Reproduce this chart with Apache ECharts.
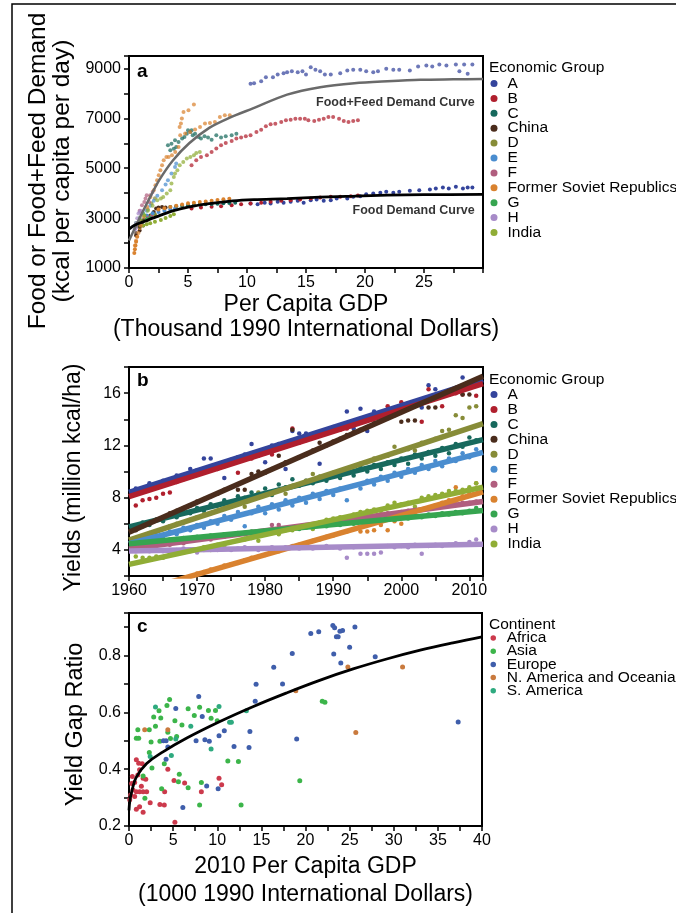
<!DOCTYPE html>
<html><head><meta charset="utf-8">
<script src="https://cdn.jsdelivr.net/npm/echarts@6/dist/echarts.min.js"></script>
<style>html,body{margin:0;padding:0;background:#fff}#c{width:676px;height:913px}</style>
</head><body><div id="c"></div>
<script>
// ---------- shared categories ----------
const groups = ['A','B','C','China','D','E','F','Former Soviet Republics','G','H','India'];
const groupColors = ['#34449c','#b01f2d','#17695d','#4a2c1c','#878c38','#4a8dcf','#b05e7e','#d9822f','#36a550','#a78bc8','#90ad36'];
const continents = ['Africa','Asia','Europe','N. America and Oceania','S. America'];
const continentColors = ['#cc3a4c','#3cb54a','#3f5eab','#c97a3e','#2eaa7f'];

// ---------- panel a: [GDP (thousand $), kcal/capita/day] ----------
const foodA = [[10.3,3590],[10.9,3560],[11.5,3615],[12.0,3590],[12.6,3655],[13.1,3615],[13.7,3655],[14.3,3695],[14.8,3615],[15.4,3720],[15.9,3750],[16.5,3695],[17.1,3720],[17.6,3790],[18.5,3790],[19.0,3855],[19.6,3880],[20.1,3960],[20.7,3990],[21.3,4015],[21.8,4055],[22.4,4015],[22.9,4055],[23.8,4095],[24.6,4120],[25.5,4150],[26.0,4190],[26.6,4230],[27.1,4190],[27.7,4255],[28.3,4190],[28.7,4230],[29.1,4230]];
const feedA = [[10.3,8390],[10.6,8410],[11.2,8490],[11.6,8650],[12.2,8650],[12.6,8760],[13.1,8810],[13.4,8850],[13.8,8890],[14.3,8850],[14.7,8890],[15.0,8760],[15.4,9050],[15.8,8950],[16.2,8890],[16.6,8760],[17.1,8760],[17.9,8810],[18.5,8920],[19.0,8950],[19.6,8950],[20.1,8890],[20.7,8850],[21.1,8890],[21.8,8990],[22.4,8950],[22.9,8950],[23.8,8920],[24.5,9080],[25.2,9120],[25.7,9080],[26.3,9160],[26.9,9120],[27.7,9160],[28.0,8890],[28.4,9160],[28.7,8790],[29.1,9160]];
const foodB = [[5.3,3390],[6.1,3430],[7.0,3455],[7.8,3480],[8.7,3520],[9.5,3560],[10.3,3590],[11.2,3615],[12.0,3655],[12.9,3695],[13.7,3720],[14.5,3750],[15.4,3790],[16.2,3830],[17.1,3855],[17.9,3855],[18.8,3880],[19.4,3910]];
const feedB = [[5.3,5120],[5.7,5320],[6.1,5455],[6.6,5520],[7.0,5655],[7.4,5790],[7.8,5920],[8.2,6015],[8.7,6095],[9.1,6190],[9.5,6230],[9.9,6280],[10.3,6320],[10.8,6455],[11.2,6545],[11.6,6680],[12.0,6760],[12.4,6785],[12.9,6855],[13.3,6920],[13.7,6945],[14.1,6985],[14.5,6985],[14.9,6985],[15.2,6920],[15.7,6895],[16.1,6945],[16.5,6985],[16.9,7055],[17.3,7055],[17.8,6985],[18.2,6895],[18.6,6855],[19.0,6895],[19.4,6920]];
const foodC = [[3.0,3400],[3.5,3450],[4.0,3480],[4.5,3500],[5.0,3520],[5.5,3530],[6.0,3550],[6.5,3560],[7.0,3570],[7.5,3580],[8.0,3600],[8.5,3610],[9.0,3620]];
const feedC = [[3.3,5920],[3.5,5720],[3.6,5985],[3.8,5785],[3.9,6120],[4.0,5855],[4.2,6055],[4.5,6190],[4.7,6255],[4.9,6385],[5.0,6520],[5.2,6455],[5.3,6520],[5.4,6320],[5.6,6385],[5.9,6255],[6.1,6190],[6.4,6280],[6.7,6230],[7.0,6145],[7.4,6320],[7.8,6230],[8.2,6280],[8.7,6320],[9.1,6385]];
const foodChina = [[0.6,2300],[0.9,2500],[1.2,2700],[1.5,2900],[1.8,3100],[2.1,3250],[2.3,3390],[2.5,3430],[2.8,3450],[3.1,3430]];
const feedChina = [[0.6,2400],[0.9,2650],[1.2,2900]];
const foodD = [[1.3,2900],[1.6,3000],[1.9,3100],[2.2,3150]];
const feedD = [[1.3,3100],[1.6,3350],[1.9,3600],[2.2,3800]];
const foodE = [[1.5,3100],[2.0,3200],[2.5,3250],[3.0,3300],[3.5,3350],[3.9,3380]];
const feedE = [[1.5,3300],[1.8,3500],[2.1,3700],[2.4,3900],[2.8,4120],[3.1,4350],[3.3,4520],[3.6,4790],[3.9,5050],[4.0,5190]];
const foodF = [[1.0,2900],[1.3,2950],[1.6,3000],[1.9,3050]];
const feedF = [[0.9,3300],[1.1,3520],[1.3,3650],[1.4,3790],[1.5,3920],[1.7,3650],[1.8,3920],[2.0,4050]];
const foodFSR = [[0.45,1600],[0.5,1750],[0.55,1900],[0.6,2050],[0.7,2250],[0.9,2600],[2.5,3350],[3.0,3400],[3.5,3450],[4.0,3500],[4.5,3550],[5.0,3600],[5.5,3620],[6.0,3650],[6.5,3670],[7.0,3700],[7.5,3730],[8.0,3760],[8.5,3780]];
const feedFSR = [[0.5,1900],[0.6,2100],[0.8,2400],[1.0,2700],[1.26,3050],[1.54,3450],[1.82,3850],[2.1,4120],[2.24,4320],[2.38,4520],[2.52,4720],[2.66,4920],[2.8,5120],[2.94,5320],[3.17,5450],[3.36,5450],[3.64,5520],[3.92,5650],[4.2,5850],[4.34,6320],[4.29,6650],[4.4,6790],[4.48,6990],[4.62,7250],[5.04,7320],[5.5,7560],[4.76,6390],[5.18,6450],[5.6,6550],[6.02,6650],[6.44,6790],[6.86,6810],[7.28,6850],[7.7,7050],[8.12,7120],[8.54,7120]];
const foodG = [[0.6,2700],[0.9,2800],[1.2,2900],[1.5,2950],[1.8,3000]];
const feedG = [[0.6,2800],[0.9,3000],[1.2,3200]];
const foodH = [[0.5,2550],[0.7,2650],[0.9,2750],[1.1,2800]];
const feedH = [[0.6,2800],[0.7,2990],[0.8,3190],[0.9,3250],[1.0,3300]];
const foodIndia = [[0.9,2650],[1.2,2700],[1.5,2750],[1.8,2790],[2.2,2850],[2.7,2920],[3.1,3000],[3.5,3080],[3.8,3160]];
const feedIndia = [[0.8,2800],[1.0,2900],[1.3,3100],[1.6,3300],[2.0,3500],[2.4,3720],[2.7,3790],[2.9,3850],[3.2,3990],[3.5,4120],[3.6,4390],[3.8,4650],[3.9,4790],[4.1,4920],[4.3,5120],[4.6,5250],[4.9,5390],[5.2,5450],[5.5,5520],[5.7,5610],[6.0,5650]];
const feedCurve = [[0,2100],[0.5,2600],[1,3100],[1.8,3850],[2.6,4550],[3.7,5300],[5.1,6000],[6.8,6620],[8.5,7020],[10.5,7400],[13.4,7950],[16.2,8250],[19.1,8410],[21.9,8490],[24.7,8550],[27.5,8565],[30,8575]];
const foodCurve = [[0,2560],[0.5,2720],[1.2,2850],[2.3,3050],[3.7,3290],[5.1,3450],[6.8,3580],[8.8,3690],[10.6,3740],[13.4,3780],[16.2,3840],[19.1,3880],[21.9,3920],[25,3940],[30,3950]];
const foodData = [foodA,foodB,foodC,foodChina,foodD,foodE,foodF,foodFSR,foodG,foodH,foodIndia];
const feedData = [feedA,feedB,feedC,feedChina,feedD,feedE,feedF,feedFSR,feedG,feedH,feedIndia];

// ---------- panel b: yields (million kcal/ha), 1961..2011 ----------
const years = [1961,1962,1963,1964,1965,1966,1967,1968,1969,1970,1971,1972,1973,1974,1975,1976,1977,1978,1979,1980,1981,1982,1983,1984,1985,1986,1987,1988,1989,1990,1991,1992,1993,1994,1995,1996,1997,1998,1999,2000,2001,2002,2003,2004,2005,2006,2007,2008,2009,2010,2011];
const yieldA = [8.7,8.6,9.1,8.9,9.3,9.3,9.7,9.6,10.2,10.1, 11.0,11.0,10.5,9.5,10.9,11.1,11.3,12.1,11.5,10.7, 12.0,12.1,10.2,13.1,12.9,12.9,12.8,10.6,13.1,13.4, 13.5,14.6,13.3,14.8,13.1,14.6,14.5,14.6,14.8,15.0, 15.2,15.3,14.9,16.6,16.3,15.8,16.2,16.4,17.2,16.6,16.9];
const yieldB = [7.4,7.8,7.9,8.0,8.3,8.4,9.2,9.4,9.6,9.8, 9.9,10.1,10.2,10.4,10.6,9.9,10.9,11.0,11.2,11.4, 11.3,11.8,11.9,13.3,12.2,12.4,12.6,12.8,12.9,13.1, 13.2,13.3,13.6,13.8,13.9,14.1,14.3,15.0,14.7,15.3, 14.9,15.0,13.8,16.3,15.6,15.0,15.9,16.0,15.9,16.6,15.8];
const yieldC = [5.8,6.1,5.9,6.3,6.2,6.6,6.5,6.9,6.8,7.2, 7.0,7.5,7.4,7.8,7.6,8.1,8.0,8.4,8.0,8.7, 8.2,9.0,8.8,9.4,8.9,9.3,9.1,9.6,9.3,9.8, 9.5,10.1,9.7,10.3,10.0,10.5,10.2,10.7,10.5,11.0, 10.6,11.3,11.0,11.5,11.2,11.8,11.4,12.1,11.9,12.6,12.4];
const yieldChina = [5.5,5.8,6.0,6.3,6.5,6.8,7.0,7.2,7.4,7.7, 7.9,8.1,8.3,8.6,8.8,8.6,8.6,9.8,10.0,9.9, 10.2,11.2,10.7,13.2,11.1,11.3,11.6,12.2,12.0,12.3, 12.5,12.8,13.0,13.2,13.4,13.7,13.9,14.1,14.3,13.8, 13.9,13.9,15.2,14.9,14.9,15.9,16.2,16.4,15.9,15.9,17.0];
const yieldD = [4.9,5.0,5.3,5.4,5.6,5.8,6.0,6.1,6.3,6.5, 6.7,6.8,7.0,7.2,7.3,7.5,7.3,7.9,8.4,8.2, 8.3,8.6,8.3,8.9,9.0,9.3,9.8,9.6,9.7,9.9, 9.7,10.2,10.4,10.6,10.7,11.0,11.1,11.2,11.9,11.6, 11.7,11.6,12.2,12.3,12.5,13.1,13.2,14.3,14.1,14.9,15.0];
const yieldE = [4.5,4.8,4.7,5.1,5.0,5.4,5.2,5.7,5.5,5.9, 5.7,6.2,6.0,6.6,6.3,6.9,5.8,6.8,7.3,6.8, 7.5,7.1,7.8,7.4,8.0,7.6,8.3,7.9,8.5,8.2, 8.7,7.8,8.9,8.7,9.3,9.0,9.6,9.3,9.9,9.6, 10.2,9.9,10.5,10.2,10.8,10.4,11.0,10.8,11.4,11.1,11.7];
const yieldF = [4.2,4.1,4.3,4.3,4.4,4.4,4.6,4.5,4.7,4.8, 4.9,4.8,5.0,5.0,5.1,5.2,5.3,5.2,5.4,5.5, 5.9,5.9,5.6,5.7,5.8,5.9,5.9,6.0,6.1,6.2, 6.2,6.3,6.4,6.5,6.5,6.6,6.7,6.8,6.8,6.9, 7.0,7.0,7.1,7.2,7.3,7.3,7.4,7.5,7.6,7.6,7.7];
const yieldFSR = [null,null,null,null,null,null,null,null,null,2.2, 2.3,2.5,2.6,2.8,2.9,3.0,3.2,3.4,3.5,3.6, 3.8,3.9,4.1,4.2,4.4,4.5,4.7,4.8,5.0,5.1, 5.3,5.4,5.6,5.4,5.4,5.5,5.9,5.5,6.2,6.0, 6.8,6.9,7.1,7.2,7.4,7.6,7.8,8.8,8.1,8.3,9.1];
const yieldG = [4.5,4.6,4.5,4.7,4.6,4.8,4.7,4.9,4.8,5.0, 4.9,5.1,5.0,5.2,5.1,5.3,5.2,5.4,5.3,5.5, 5.4,5.6,5.5,5.7,5.6,5.8,5.7,5.9,5.8,6.0, 5.9,6.1,6.0,6.2,6.1,6.3,6.2,6.4,6.3,6.5, 6.4,6.6,6.5,6.7,6.6,6.8,6.7,6.9,6.8,7.0,7.2];
const yieldH = [3.9,4.0,3.9,4.0,3.9,4.0,4.0,4.1,3.9,3.8, 4.0,4.1,4.0,4.1,4.0,4.1,4.2,4.1,4.0,4.1, 4.2,4.1,4.2,4.3,4.1,4.2,4.1,4.2,4.3,4.2, 4.1,3.4,4.2,3.7,3.7,3.7,3.8,4.3,4.2,4.3, 4.2,4.4,3.7,4.3,4.4,4.3,4.4,4.5,4.4,4.6,4.8];
const yieldIndia = [3.5,3.4,3.4,3.5,3.4,3.7,3.9,3.8,4.0,4.0, 4.2,4.0,4.4,4.3,4.6,4.7,4.8,4.9,4.7,5.2, 5.3,5.2,5.6,5.5,5.8,5.7,5.6,6.1,6.3,6.4, 6.5,6.5,6.7,6.9,7.0,7.1,7.0,7.4,7.6,7.5, 7.6,7.3,8.0,8.1,8.2,8.3,8.5,8.5,8.6,8.8,9.1];
const yieldData = [yieldA,yieldB,yieldC,yieldChina,yieldD,yieldE,yieldF,yieldFSR,yieldG,yieldH,yieldIndia];
const trendA = [[1960,8.40],[2012,17.03]];
const trendB = [[1960,8.07],[2012,16.72]];
const trendC = [[1960,5.76],[2012,12.44]];
const trendChina = [[1960,5.35],[2012,17.30]];
const trendD = [[1960,4.75],[2012,13.67]];
const trendE = [[1960,4.47],[2012,11.47]];
const trendF = [[1960,4.07],[2012,7.71]];
const trendFSR = [[1965,1.37],[2012,8.44]];
const trendG = [[1960,4.47],[2012,7.02]];
const trendH = [[1960,3.91],[2012,4.44]];
const trendIndia = [[1960,2.89],[2012,8.80]];
const trendData = [trendA,trendB,trendC,trendChina,trendD,trendE,trendF,trendFSR,trendG,trendH,trendIndia];

// ---------- panel c: [2010 GDP (1000 $), yield gap ratio] ----------
const africa = [[0.83,0.433],[1.1,0.421],[1.5,0.419],[0.38,0.374],[1.2,0.398],[1.0,0.38],[1.6,0.368],[0.64,0.353],[1.9,0.365],[0.45,0.327],[0.83,0.321],[1.2,0.321],[1.6,0.321],[2.0,0.321],[0.64,0.304],[0.83,0.259],[1.2,0.268],[1.6,0.248],[2.4,0.282],[3.5,0.276],[4.0,0.274],[4.04,0.321],[4.4,0.40],[5.1,0.36],[6.3,0.351],[8.2,0.321],[10.2,0.368],[10.5,0.345],[5.2,0.213],[0.19,0.309],[0.08,0.292],[1.4,0.34],[0.3,0.35]];
const asia = [[4.6,0.645],[3.4,0.606],[2.8,0.584],[3.6,0.58],[4.3,0.624],[5.2,0.571],[6.0,0.556],[6.7,0.613],[7.4,0.589],[8.0,0.618],[9.0,0.607],[9.3,0.579],[9.8,0.607],[10.0,0.571],[1.0,0.539],[0.83,0.509],[1.1,0.509],[2.3,0.539],[3.0,0.551],[2.5,0.496],[3.5,0.498],[4.7,0.508],[5.4,0.515],[2.3,0.459],[4.0,0.419],[1.6,0.376],[2.6,0.404],[5.7,0.382],[5.6,0.356],[6.7,0.335],[8.2,0.353],[3.7,0.331],[1.8,0.298],[8.0,0.274],[12.7,0.274],[11.2,0.429],[12.4,0.427],[19.35,0.359],[21.9,0.639],[22.2,0.636],[4.4,0.53]];
const europe = [[23.1,0.906],[23.3,0.898],[23.5,0.866],[23.7,0.866],[23.9,0.886],[24.2,0.888],[20.6,0.878],[21.5,0.884],[25.6,0.901],[18.5,0.807],[23.2,0.806],[25.0,0.829],[24.0,0.774],[27.9,0.796],[16.4,0.759],[14.4,0.699],[17.4,0.70],[14.3,0.639],[7.9,0.656],[8.3,0.586],[5.3,0.614],[7.6,0.50],[8.6,0.504],[9.1,0.498],[10.2,0.518],[10.8,0.535],[13.7,0.533],[11.9,0.48],[13.6,0.476],[19.0,0.506],[37.3,0.566],[3.9,0.50],[4.2,0.50],[4.4,0.478],[4.2,0.435],[6.1,0.265],[8.8,0.341],[10.1,0.331]];
const namerica = [[24.8,0.76],[31.0,0.76],[18.9,0.676],[25.7,0.529],[1.78,0.539],[4.4,0.539]];
const samerica = [[3.0,0.619],[10.2,0.621],[4.8,0.448],[2.4,0.445],[11.4,0.565],[11.6,0.565],[13.3,0.606],[9.3,0.471],[7.0,0.551],[5.3,0.506]];
const gapCurve = [[0,0.255],[0.1,0.29],[0.3,0.32],[0.8,0.37],[2,0.42],[3.9,0.462],[6.5,0.509],[10.3,0.568],[14.1,0.621],[17.8,0.668],[21.6,0.713],[25.4,0.753],[29.2,0.788],[33,0.819],[36.7,0.845],[40,0.866]];
const continentData = [africa,asia,europe,namerica,samerica];

// ---------- tick label texts ----------
const aXLabels = [0,5,10,15,20,25];
const aYLabels = [1000,3000,5000,7000,9000];
const bXLabels = [1960,1970,1980,1990,2000,2010];
const bYLabels = [4,8,12,16];
const cXLabels = [0,5,10,15,20,25,30,35,40];
const cYLabels = ['0.2','0.4','0.6','0.8'];

// ---------- build chart ----------
const FONT = '"Liberation Sans", Arial, Helvetica, sans-serif';
const chart = echarts.init(document.getElementById('c'), null, {renderer:'canvas'});

function axisBase(extra){
  return Object.assign({
    type:'value',
    axisLine:{show:true,onZero:false,lineStyle:{color:'#000',width:2}},
    axisTick:{show:true,inside:false,length:5,lineStyle:{color:'#000',width:1.5}},
    splitLine:{show:false}
  }, extra);
}
function lbl(list, margin){
  return {color:'#000',fontSize:16,fontFamily:FONT,margin:margin,formatter:function(v){
    for (const t of list){ if (Math.abs(Number(t)-v) < 1e-6) return String(t); }
    return '';
  }};
}
function nameStyle(size, lh, pad){ return {color:'#000',fontSize:size,fontFamily:FONT,lineHeight:lh,padding:pad||0}; }

const series = [];
// panel a
groups.forEach((g,i)=>{
  series.push({name:g,type:'scatter',xAxisIndex:0,yAxisIndex:0,data:foodData[i],symbolSize:4,itemStyle:{color:groupColors[i],opacity:1},z:2,silent:true});
});
groups.forEach((g,i)=>{
  series.push({name:g,type:'scatter',xAxisIndex:0,yAxisIndex:0,data:feedData[i],symbolSize:4,itemStyle:{color:groupColors[i],opacity:0.72},z:2,silent:true});
});
series.push({name:'feedCurve',type:'line',xAxisIndex:0,yAxisIndex:0,data:feedCurve,smooth:0.3,showSymbol:false,lineStyle:{color:'#6a6a6a',width:2.5},z:4,silent:true});
series.push({name:'foodCurve',type:'line',xAxisIndex:0,yAxisIndex:0,data:foodCurve,smooth:0.3,showSymbol:false,lineStyle:{color:'#000',width:2.8},z:4,silent:true});
series.push({name:'curveLabels',type:'scatter',xAxisIndex:0,yAxisIndex:0,symbolSize:0,silent:true,z:5,
  data:[{value:[29.3,7640],label:{formatter:'Food+Feed Demand Curve'}},{value:[29.3,3320],label:{formatter:'Food Demand Curve'}}],
  label:{show:true,position:[0,0],align:'right',verticalAlign:'middle',color:'#000',fontSize:12.5,fontWeight:'bold',fontFamily:FONT}});
// panel b
groups.forEach((g,i)=>{
  series.push({name:g,type:'scatter',xAxisIndex:1,yAxisIndex:1,data:years.map((y,k)=>[y,yieldData[i][k]]),symbolSize:4.5,itemStyle:{color:groupColors[i],opacity:1},z:2,silent:true});
});
groups.forEach((g,i)=>{
  series.push({name:g,type:'line',xAxisIndex:1,yAxisIndex:1,data:trendData[i],showSymbol:false,lineStyle:{color:groupColors[i],width:5.5,opacity:1},z:3,silent:true});
});
// panel c
continents.forEach((c,i)=>{
  series.push({name:c,type:'scatter',xAxisIndex:2,yAxisIndex:2,data:continentData[i],symbolSize:5,itemStyle:{color:continentColors[i],opacity:1},z:2,silent:true});
});
series.push({name:'gapCurve',type:'line',xAxisIndex:2,yAxisIndex:2,data:gapCurve,smooth:0.4,showSymbol:false,lineStyle:{color:'#000',width:2.8},z:4,silent:true});

function legendCfg(top, data, size, gap, pad){
  return {orient:'vertical',left:490.5,top:top,padding:0,itemWidth:size,itemHeight:size,itemGap:gap,icon:'circle',
    selectedMode:false,data:data,
    textStyle:{color:'#000',fontSize:15.5,fontFamily:FONT,padding:[0,0,0,pad]}};
}

const option = {
  backgroundColor:'#fff',
  animation:false,
  grid:[
    {left:129,top:56,width:354,height:212,show:true,borderColor:'#000',borderWidth:2,containLabel:false,outerBoundsMode:'none'},
    {left:129,top:367,width:354,height:209,show:true,borderColor:'#000',borderWidth:2,containLabel:false,outerBoundsMode:'none'},
    {left:129,top:613,width:353,height:213,show:true,borderColor:'#000',borderWidth:2,containLabel:false,outerBoundsMode:'none'}
  ],
  xAxis:[
    axisBase({gridIndex:0,min:0,max:30,interval:2.5,axisLabel:lbl(aXLabels,7),
      name:'Per Capita GDP\n(Thousand 1990 International Dollars)',nameLocation:'middle',nameGap:22,nameTextStyle:nameStyle(23,25)}),
    axisBase({gridIndex:1,min:1960,max:2012,interval:5,axisLabel:lbl(bXLabels,7)}),
    axisBase({gridIndex:2,min:0,max:40,interval:2.5,axisLabel:lbl(cXLabels,7),
      name:'2010 Per Capita GDP\n(1000 1990 International Dollars)',nameLocation:'middle',nameGap:27,nameTextStyle:nameStyle(23,28)})
  ],
  yAxis:[
    axisBase({gridIndex:0,min:1000,max:9500,interval:1000,axisLabel:lbl(aYLabels,8),
      name:'Food or Food+Feed Demand\n(kcal per capita per day)',nameLocation:'middle',nameGap:55,nameRotate:90,nameTextStyle:nameStyle(24.5,24,[0,18,0,0])}),
    axisBase({gridIndex:1,min:2,max:18,interval:2,axisLabel:lbl(bYLabels,8),
      name:'Yields (million kcal/ha)',nameLocation:'middle',nameGap:43,nameRotate:90,nameTextStyle:nameStyle(23,24,[0,12,0,0])}),
    axisBase({gridIndex:2,min:0.2,max:0.95,interval:0.1,axisLabel:lbl(cYLabels,8),
      name:'Yield Gap Ratio',nameLocation:'middle',nameGap:37,nameRotate:90,nameTextStyle:nameStyle(23.5,24,[0,10,0,0])})
  ],
  legend:[
    legendCfg(75.5, groups, 7, -1.1, 5),
    legendCfg(386.5, groups, 7, -1.05, 5),
    legendCfg(630, continents, 5.5, -2.8, 5.7)
  ],
  graphic:[
    {type:'rect',shape:{x:12,y:4,width:720,height:1000},style:{fill:'none',stroke:'#000',lineWidth:1.5},silent:true},
    {type:'text',left:137,top:62,style:{text:'a',font:'bold 19px '+FONT,fill:'#000'}},
    {type:'text',left:137,top:371,style:{text:'b',font:'bold 19px '+FONT,fill:'#000'}},
    {type:'text',left:137,top:617,style:{text:'c',font:'bold 19px '+FONT,fill:'#000'}},
    {type:'text',left:489,top:60,style:{text:'Economic Group',font:'15.5px '+FONT,fill:'#000'}},
    {type:'text',left:489,top:372,style:{text:'Economic Group',font:'15.5px '+FONT,fill:'#000'}},
    {type:'text',left:489,top:617,style:{text:'Continent',font:'15.5px '+FONT,fill:'#000'}}
  ],
  series:series
};
chart.setOption(option);
</script></body></html>
